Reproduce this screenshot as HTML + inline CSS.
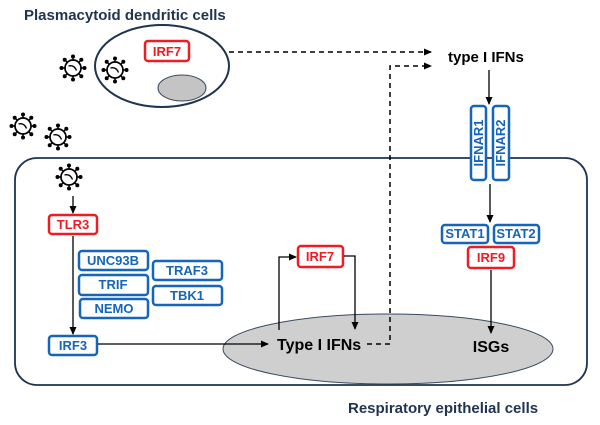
<!DOCTYPE html>
<html><head><meta charset="utf-8"><style>
body{margin:0;background:#fff}
svg{display:block}
text{font-family:"Liberation Sans",sans-serif;font-weight:bold}
.b{fill:#fff;stroke:#1565b8;stroke-width:2.5}
.r{fill:#fff;stroke:#ee1c24;stroke-width:2.5}
.bt{fill:#1565b8;font-size:13px;text-anchor:middle}
.rt{fill:#ee1c24;font-size:13px;text-anchor:middle}
.ln{stroke:#000;stroke-width:1.3;fill:none}
.dl{stroke:#000;stroke-width:1.5;fill:none;stroke-dasharray:5,4}
</style></head><body>
<svg width="600" height="425" viewBox="0 0 600 425">
<defs>
<marker id="a" markerWidth="8" markerHeight="8" refX="7" refY="4" orient="auto" markerUnits="userSpaceOnUse"><path d="M0,0.5 L8,4 L0,7.5z" fill="#000"/></marker>
<g id="v">
<g stroke="#000" stroke-width="1.4">
<line x1="0" y1="-11.5" x2="0" y2="11.5"/><line x1="-11.5" y1="0" x2="11.5" y2="0"/>
<line x1="-8.3" y1="-8.3" x2="8.3" y2="8.3"/><line x1="-8.3" y1="8.3" x2="8.3" y2="-8.3"/>
</g>
<g fill="#000"><circle cx="0" cy="-11.5" r="2"/><circle cx="0" cy="11.5" r="2"/><circle cx="-11.5" cy="0" r="2"/><circle cx="11.5" cy="0" r="2"/><circle cx="-8.3" cy="-8.3" r="2"/><circle cx="8.3" cy="8.3" r="2"/><circle cx="-8.3" cy="8.3" r="2"/><circle cx="8.3" cy="-8.3" r="2"/></g>
<circle r="8" fill="#fff" stroke="#000" stroke-width="1.7"/>
<path d="M-4.5,-2 Q1,-3.5 3.5,2.5" stroke="#000" stroke-width="1.4" fill="none"/>
</g>
</defs>
<text x="24" y="20" font-size="15" fill="#1f3450">Plasmacytoid dendritic cells</text>
<ellipse cx="162" cy="66" rx="67" ry="41" fill="#fff" stroke="#1f3450" stroke-width="2"/>
<rect x="145" y="41" width="44" height="20" rx="3" class="r"/><text x="167" y="56" class="rt">IRF7</text>
<ellipse cx="182" cy="88" rx="24" ry="13" fill="#c4c4c4" stroke="#3a4a60" stroke-width="1"/>
<use href="#v" x="73" y="68"/><use href="#v" x="115" y="70"/>
<use href="#v" x="23" y="126"/><use href="#v" x="58" y="137"/>
<rect x="15" y="158" width="572" height="227" rx="22" fill="none" stroke="#1f3450" stroke-width="1.8"/>
<use href="#v" x="69" y="177"/>
<ellipse cx="388" cy="349" rx="165" ry="35" fill="#cfcfcf" stroke="#3a4a60" stroke-width="1"/>
<line x1="73" y1="196" x2="73" y2="213" class="ln" marker-end="url(#a)"/>
<rect x="49" y="215" width="48" height="19" rx="3" class="r"/><text x="73" y="229" class="rt">TLR3</text>
<line x1="73" y1="236" x2="73" y2="334" class="ln" marker-end="url(#a)"/>
<rect x="49" y="336" width="48" height="19" rx="3" class="b"/><text x="73" y="350" class="bt">IRF3</text>
<rect x="79" y="251" width="69" height="19" rx="3" class="b"/><text x="113" y="265" class="bt">UNC93B</text>
<rect x="79" y="275" width="69" height="20" rx="3" class="b"/><text x="113" y="289" class="bt">TRIF</text>
<rect x="80" y="299" width="68" height="19" rx="3" class="b"/><text x="114" y="313" class="bt">NEMO</text>
<rect x="153" y="261" width="69" height="19" rx="3" class="b"/><text x="187" y="275" class="bt">TRAF3</text>
<rect x="153" y="286" width="69" height="19" rx="3" class="b"/><text x="187" y="300" class="bt">TBK1</text>
<line x1="98" y1="344" x2="268" y2="344" class="ln" marker-end="url(#a)"/>
<text x="277" y="350" font-size="16" fill="#000">Type I IFNs</text>
<rect x="298" y="246" width="45" height="21" rx="3" class="r"/><text x="320" y="261" class="rt">IRF7</text>
<path d="M279,330 V257 H296" class="ln" marker-end="url(#a)"/>
<path d="M344,256 H355 V329" class="ln" marker-end="url(#a)"/>
<path d="M367,344 H390 V66 H431" class="dl" marker-end="url(#a)"/>
<path d="M229,52 H431" class="dl" marker-end="url(#a)"/>
<text x="448" y="62" font-size="15" fill="#000">type I IFNs</text>
<line x1="489" y1="70" x2="489" y2="104" class="ln" marker-end="url(#a)"/>
<rect x="471" y="106" width="15" height="74" rx="3" class="b"/><text transform="translate(483,143) rotate(-90)" class="bt">IFNAR1</text>
<rect x="493" y="106" width="16" height="74" rx="3" class="b"/><text transform="translate(505,143) rotate(-90)" class="bt">IFNAR2</text>
<line x1="490" y1="184" x2="490" y2="222" class="ln" marker-end="url(#a)"/>
<rect x="442" y="225" width="46" height="18" rx="3" class="b"/><text x="465" y="238" class="bt">STAT1</text>
<rect x="494" y="225" width="45" height="18" rx="3" class="b"/><text x="516" y="238" class="bt">STAT2</text>
<rect x="468" y="247" width="46" height="21" rx="3" class="r"/><text x="491" y="262" class="rt">IRF9</text>
<line x1="491" y1="270" x2="491" y2="333" class="ln" marker-end="url(#a)"/>
<text x="491" y="352" font-size="16" fill="#000" text-anchor="middle">ISGs</text>
<text x="348" y="413" font-size="15" fill="#1f3450">Respiratory epithelial cells</text>
</svg>
</body></html>
